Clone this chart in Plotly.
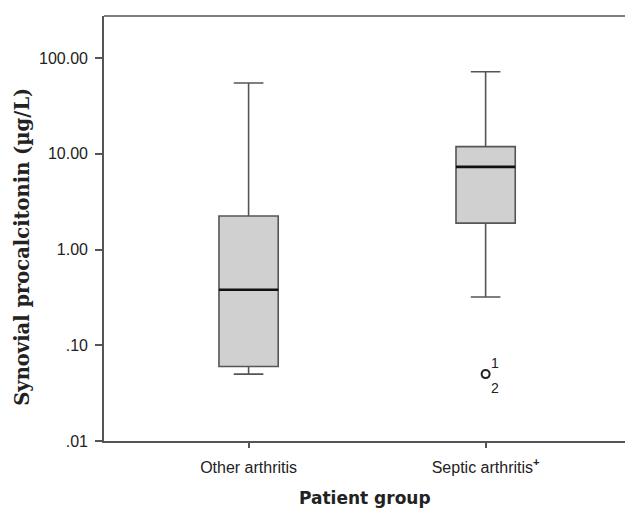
import math
import plotly.graph_objects as go

# ---- data ----
categories = ["Other arthritis", "Septic arthritis"]
tick_labels = ["Other arthritis", "Septic arthritis<b><sup>+</sup></b>"]
lower_whisker = [0.050, 0.32]
q1_values = [0.060, 1.89]
medians = [0.38, 7.3]
q3_values = [2.24, 11.9]
upper_whisker = [55.0, 72.0]
outlier_group = ["Septic arthritis"]
outlier_values = [0.05]
outlier_case_labels = ["1", "2"]
y_tick_values = [0.01, 0.1, 1, 10, 100]
y_tick_text = [".01", ".10", "1.00", "10.00", "100.00"]

AX = "#555555"
BOX_W = 0.25

fig = go.Figure()
fig.add_trace(go.Box(
    x=categories,
    q1=q1_values, median=medians, q3=q3_values,
    lowerfence=lower_whisker, upperfence=upper_whisker,
    width=BOX_W, whiskerwidth=0.5,
    fillcolor="#d0d0d0",
    line=dict(color=AX, width=1.6),
    boxpoints=False, showlegend=False, hoverinfo="skip",
))
fig.add_trace(go.Scatter(
    x=outlier_group, y=outlier_values, mode="markers",
    marker=dict(symbol="circle-open", size=8, color="#222222", line=dict(width=2)),
    showlegend=False, hoverinfo="skip",
))

# darker, thicker median lines
for i, m in enumerate(medians):
    fig.add_shape(type="line", xref="x", yref="y",
                  x0=i - BOX_W / 2, x1=i + BOX_W / 2, y0=m, y1=m,
                  line=dict(color="#111111", width=2.6))

# case labels next to the outlier
for lbl, ys in zip(outlier_case_labels, [11, -14]):
    fig.add_annotation(x=outlier_group[0], y=math.log10(outlier_values[0]),
                       xref="x", yref="y", text=lbl, showarrow=False,
                       xshift=9, yshift=ys,
                       font=dict(family="Liberation Sans, Arial", size=14, color="#222222"))

# top frame line
fig.add_shape(type="line", xref="paper", yref="paper", x0=0, x1=1.05, y0=1, y1=1,
              line=dict(color=AX, width=1.6))

fig.add_annotation(text="Synovial procalcitonin (µg/L)", xref="paper", yref="paper",
                   x=-0.157, y=0.4576, textangle=-90, showarrow=False,
                   xanchor="center", yanchor="middle",
                   font=dict(family="DejaVu Serif", size=19.5, color="#222222", weight="bold"))
fig.add_annotation(text="<b>Patient group</b>", xref="paper", yref="paper",
                   x=0.501, y=-0.134, showarrow=False, xanchor="center", yanchor="middle",
                   font=dict(family="DejaVu Sans", size=17, color="#222222"))

fig.update_layout(
    width=625, height=515,
    margin=dict(l=104, r=0, t=16, b=74),
    plot_bgcolor="white", paper_bgcolor="white",
    font=dict(family="Liberation Sans, Arial", size=16, color="#222222"),
)
fig.update_xaxes(
    type="category", range=[-0.61, 1.588],
    tickmode="array", tickvals=categories, ticktext=tick_labels,
    ticks="outside", ticklen=5, tickcolor=AX, tickwidth=1.5,
    showline=True, linecolor=AX, linewidth=1.6, showgrid=False, zeroline=False,
    ticklabelstandoff=6,
)
fig.update_yaxes(
    type="log", range=[-2, 2.44],
    tickmode="array", tickvals=y_tick_values, ticktext=y_tick_text,
    ticks="outside", ticklen=7, tickcolor=AX, tickwidth=1.5,
    showline=True, linecolor=AX, linewidth=1.6, showgrid=False, zeroline=False,
    ticklabelstandoff=4,
)

fig.write_html("out.html",
               config={"displayModeBar": False},
               post_script="document.body.style.margin='0';document.body.style.overflow='hidden';")
